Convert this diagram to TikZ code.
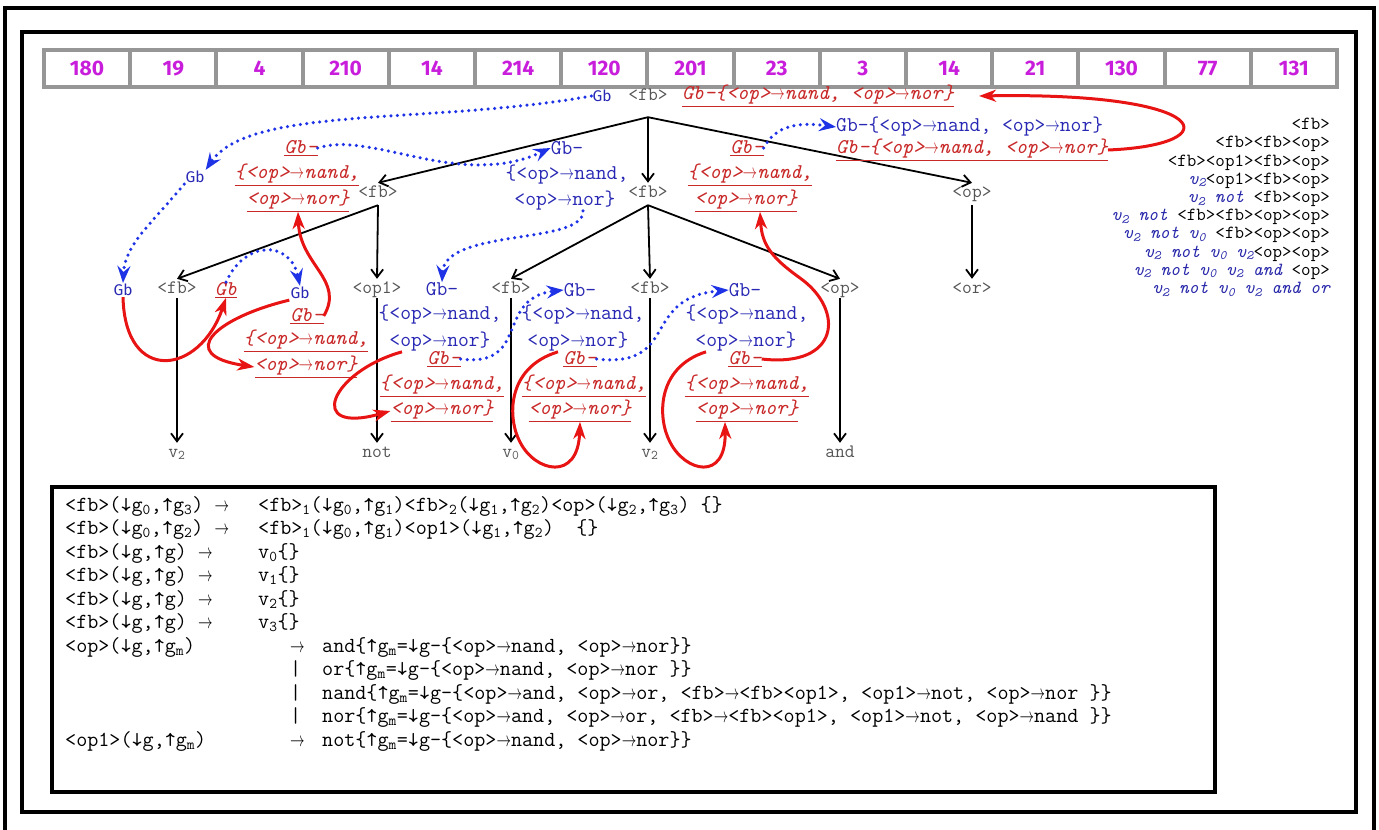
\documentclass[tikz,border=0pt]{standalone}
\usepackage{fontspec}
\usepackage{graphicx}
\usetikzlibrary{arrows.meta}
\newfontfamily\numfont{Fira Sans}
\definecolor{tgray}{RGB}{85,85,85}
\definecolor{tblue}{RGB}{40,40,180}
\definecolor{dblue}{RGB}{40,40,170}
\definecolor{dotblue}{RGB}{30,50,230}
\definecolor{tred}{RGB}{200,40,40}
\definecolor{ared}{RGB}{232,20,20}
\definecolor{numcol}{RGB}{200,30,220}
\definecolor{cellgray}{RGB}{150,150,150}
\newcommand{\treefont}{\ttfamily\fontsize{19}{21}\selectfont}
\newcommand{\annfont}{\ttfamily\fontsize{21}{23}\selectfont}
\newcommand{\annitfont}{\ttfamily\itshape\fontsize{21}{23}\selectfont}
\newcommand{\gbfont}{\numfont\fontsize{15.5}{18}\selectfont}
\newcommand{\derfont}{\ttfamily\fontsize{18.5}{18.2}\selectfont}
\newcommand{\rulefont}{\ttfamily\fontsize{21.5}{23.5}\selectfont}
\newcommand{\sbs}[1]{\textsubscript{#1}}
\newcommand{\dvar}[1]{{\color{dblue}\itshape #1}}
\newcommand{\rarr}{\scalebox{0.7}[1]{$\rightarrow$}}

\begin{document}
\begin{tikzpicture}
[tnode/.style={anchor=base, inner sep=2pt, text=tgray, font=\treefont, text height=12pt, text depth=3pt},
 tedge/.style={line width=1.8pt, -{Straight Barb[length=8pt,width=12pt]}},
 bt/.style={inner sep=0pt, text=tblue, font=\annfont},
 rt/.style={inner sep=0pt, text=tred, font=\annitfont},
 gbt/.style={inner sep=1pt, text=tblue, font=\gbfont},
 dotarr/.style={draw=dotblue, line width=3.5pt, line cap=round, dash pattern=on 0pt off 6.5pt, -{Stealth[length=17pt,width=13pt,inset=6pt]}},
 redarr/.style={draw=ared, line width=3pt, -{Stealth[length=17pt,width=12pt,inset=5pt]}},
 cell/.style={draw=cellgray, line width=4pt, minimum width=86.2pt, minimum height=37pt, inner sep=0pt, text=numcol, font=\numfont\bfseries\fontsize{21}{21}\selectfont}]
\useasboundingbox (0pt,0pt) rectangle (1379pt,-830pt);
\draw [line width=4pt] (5pt,-832pt) -- (5pt,-8pt) -- (1374pt,-8pt) -- (1374pt,-832pt);
\draw [line width=4.5pt] (22pt,-32pt) rectangle (1356pt,-812pt);
\foreach \n [count=\i from 0] in {180,19,4,210,14,214,120,201,23,3,14,21,130,77,131}
  \node (c\i) [cell] at ({44pt+86.2pt*\i+43.1pt},-68.5pt) {\n};

\node (fbR) [tnode, text depth=15pt] at (648pt,-100pt) {<fb>};
\node (fbA) [tnode, text depth=6pt] at (378pt,-197pt) {<fb>};
\node (fbB) [tnode, text depth=6pt] at (648pt,-197pt) {<fb>};
\node (opC) [tnode, text depth=6pt] at (972pt,-197pt) {<op>};
\node (fbAA) [tnode] at (177pt,-293pt) {<fb>};
\node (oneAB) [tnode] at (377pt,-293pt) {<op1>};
\node (fbBA) [tnode] at (511pt,-293pt) {<fb>};
\node (fbBB) [tnode] at (650pt,-293pt) {<fb>};
\node (opBC) [tnode] at (840pt,-293pt) {<op>};
\node (orC) [tnode] at (972pt,-293pt) {<or>};
\node (vAA) [tnode] at (177pt,-457pt) {v\sbs{2}};
\node (notAB) [tnode] at (377pt,-457pt) {not};
\node (vBA) [tnode] at (511pt,-457pt) {v\sbs{0}};
\node (vBB) [tnode] at (650pt,-457pt) {v\sbs{2}};
\node (andBC) [tnode] at (840pt,-457pt) {and};
\draw [tedge] (fbR.south) -- (fbA.north);
\draw [tedge] (fbR.south) -- (fbB.north);
\draw [tedge] (fbR.south) -- (opC.north);
\draw [tedge] (fbA.south) -- (fbAA.north);
\draw [tedge] (fbA.south) -- (oneAB.north);
\draw [tedge] (fbB.south) -- (fbBA.north);
\draw [tedge] (fbB.south) -- (fbBB.north);
\draw [tedge] (fbB.south) -- (opBC.north);
\draw [tedge] (opC.south) -- (orC.north);
\draw [tedge] (fbAA.south) -- (vAA.north);
\draw [tedge] (oneAB.south) -- (notAB.north);
\draw [tedge] (fbBA.south) -- (vBA.north);
\draw [tedge] (fbBB.south) -- (vBB.north);
\draw [tedge] (opBC.south) -- (andBC.north);

\node (gbR) [gbt] at (602pt,-96pt) {Gb};
\node (rdR) [rt, anchor=west] at (682pt,-96pt) {\underline{Gb-\{<op>\rarr nand, <op>\rarr nor\}}};
\node (bR1) [bt, anchor=west] at (836pt,-127pt) {Gb-\{<op>\rarr nand, <op>\rarr nor\}};
\node (rR1) [rt, anchor=west] at (836pt,-150pt) {\underline{Gb-\{<op>\rarr nand, <op>\rarr nor\}}};
\node (gbA) [gbt] at (195pt,-177pt) {Gb};
\node (rA1) [rt] at (301pt,-148pt) {\underline{Gb-}};
\node (rA2) [rt] at (297pt,-175pt) {\underline{\{<op>\rarr nand,}};
\node (rA3) [rt] at (298pt,-201pt) {\underline{<op>\rarr nor\}}};
\node (bB1) [bt] at (567pt,-148pt) {Gb-};
\node (bB2) [bt] at (567pt,-175pt) {\{<op>\rarr nand,};
\node (bB3) [bt] at (565pt,-201pt) {<op>\rarr nor\}};
\node (rC1) [rt] at (747pt,-148pt) {\underline{Gb-}};
\node (rC2) [rt] at (750pt,-175pt) {\underline{\{<op>\rarr nand,}};
\node (rC3) [rt] at (746pt,-201pt) {\underline{<op>\rarr nor\}}};
\node (gbL1) [gbt] at (123pt,-290pt) {Gb};
\node (rL) [rt] at (226pt,-290pt) {\underline{Gb}};
\node (gbL2) [gbt] at (300pt,-293pt) {Gb};
\node (rD1) [rt] at (307pt,-316pt) {\underline{Gb-}};
\node (rD2) [rt] at (306pt,-341pt) {\underline{\{<op>\rarr nand,}};
\node (rD3) [rt] at (306pt,-367pt) {\underline{<op>\rarr nor\}}};
\node (bE1) [bt] at (442pt,-289pt) {Gb-};
\node (bE2) [bt] at (440pt,-315pt) {\{<op>\rarr nand,};
\node (bE3) [bt] at (440pt,-342pt) {<op>\rarr nor\}};
\node (rF1) [rt] at (444pt,-359pt) {\underline{Gb-}};
\node (rF2) [rt] at (442pt,-386pt) {\underline{\{<op>\rarr nand,}};
\node (rF3) [rt] at (442pt,-411pt) {\underline{<op>\rarr nor\}}};
\node (bG1) [bt] at (580pt,-290pt) {Gb-};
\node (bG2) [bt] at (583pt,-315pt) {\{<op>\rarr nand,};
\node (bG3) [bt] at (578pt,-342pt) {<op>\rarr nor\}};
\node (rH1) [rt] at (580pt,-359pt) {\underline{Gb-}};
\node (rH2) [rt] at (584pt,-386pt) {\underline{\{<op>\rarr nand,}};
\node (rH3) [rt] at (580pt,-411pt) {\underline{<op>\rarr nor\}}};
\node (bI1) [bt] at (745pt,-290pt) {Gb-};
\node (bI2) [bt] at (747pt,-315pt) {\{<op>\rarr nand,};
\node (bI3) [bt] at (746pt,-342pt) {<op>\rarr nor\}};
\node (rJ1) [rt] at (745pt,-359pt) {\underline{Gb-}};
\node (rJ2) [rt] at (747pt,-386pt) {\underline{\{<op>\rarr nand,}};
\node (rJ3) [rt] at (747pt,-411pt) {\underline{<op>\rarr nor\}}};

\draw [dotarr] (gbR.west) .. controls (430pt,-125pt) and (250pt,-105pt) .. (gbA.north east);
\draw [dotarr] (gbA.south west) .. controls (150pt,-225pt) and (125pt,-245pt) .. (gbL1.north);
\draw [dotarr] (rA1.east) .. controls (370pt,-130pt) and (460pt,-190pt) .. (bB1.west);
\draw [dotarr] ([xshift=18pt]bB3.south) .. controls (585pt,-245pt) and (445pt,-228pt) .. (bE1.north);
\draw [dotarr] (rL.north) .. controls (245pt,-240pt) and (290pt,-240pt) .. (gbL2.north);
\draw [dotarr] (rC1.east) .. controls (775pt,-125pt) and (800pt,-122pt) .. (bR1.west);
\draw [dotarr] (rF1.east) .. controls (530pt,-368pt) and (495pt,-298pt) .. (bG1.west);
\draw [dotarr] (rH1.east) .. controls (680pt,-368pt) and (640pt,-298pt) .. (bI1.west);

\draw [redarr] (gbL1.south) .. controls (125pt,-385pt) and (200pt,-375pt) .. (rL.south);
\draw [redarr] (gbL2.south west) .. controls (215pt,-318pt) and (175pt,-355pt) .. (rD3.west);
\draw [redarr] (rD1.east) .. controls (345pt,-280pt) and (300pt,-265pt) .. (rA3.south);
\draw [redarr] ([xshift=-38pt]bE3.south) .. controls (330pt,-372pt) and (305pt,-435pt) .. (rF3.west);
\draw [redarr] ([xshift=-20pt]bG3.south) .. controls (505pt,-368pt) and (508pt,-420pt) .. (520pt,-442pt) .. controls (535pt,-472pt) and (578pt,-482pt) .. (rH3.south);
\draw [redarr] ([xshift=-40pt]bI3.south) .. controls (655pt,-368pt) and (658pt,-420pt) .. (670pt,-442pt) .. controls (685pt,-472pt) and (726pt,-482pt) .. ([xshift=-22pt]rJ3.south);
\draw [redarr] (rJ1.east) .. controls (840pt,-368pt) and (845pt,-310pt) .. (800pt,-278pt) .. controls (772pt,-258pt) and (762pt,-245pt) .. ([xshift=14pt]rC3.south);
\draw [redarr] (rR1.east) .. controls (1230pt,-145pt) and (1215pt,-92pt) .. ([xshift=25pt]rdR.east);

\node (deriv) [anchor=north east, align=right, inner sep=0pt, font=\derfont] at (1330pt,-118pt)
 {<fb>\\
  <fb><fb><op>\\
  <fb><op1><fb><op>\\
  \dvar{v\sbs{2}}<op1><fb><op>\\
  \dvar{v\sbs{2} not} <fb><op>\\
  \dvar{v\sbs{2} not} <fb><fb><op><op>\\
  \dvar{v\sbs{2} not v\sbs{0}} <fb><op><op>\\
  \dvar{v\sbs{2} not v\sbs{0} v\sbs{2}}<op><op>\\
  \dvar{v\sbs{2} not v\sbs{0} v\sbs{2} and} <op>\\
  \dvar{v\sbs{2} not v\sbs{0} v\sbs{2} and or}};

\draw [line width=4pt] (52pt,-487pt) rectangle (1215pt,-792pt);
\node (rules) [anchor=north west, align=left, inner sep=0pt, font=\rulefont] at (65pt,-496pt)
 {\makebox[193pt][l]{<fb>(↓g\sbs{0},↑g\sbs{3}) \rarr}<fb>\sbs{1}(↓g\sbs{0},↑g\sbs{1})<fb>\sbs{2}(↓g\sbs{1},↑g\sbs{2})<op>(↓g\sbs{2},↑g\sbs{3}) \{\}\\
  \makebox[193pt][l]{<fb>(↓g\sbs{0},↑g\sbs{2}) \rarr}<fb>\sbs{1}(↓g\sbs{0},↑g\sbs{1})<op1>(↓g\sbs{1},↑g\sbs{2})\ \ \{\}\\
  \makebox[193pt][l]{<fb>(↓g,↑g) \rarr}v\sbs{0}\{\}\\
  \makebox[193pt][l]{<fb>(↓g,↑g) \rarr}v\sbs{1}\{\}\\
  \makebox[193pt][l]{<fb>(↓g,↑g) \rarr}v\sbs{2}\{\}\\
  \makebox[193pt][l]{<fb>(↓g,↑g) \rarr}v\sbs{3}\{\}\\
  \makebox[225pt][l]{<op>(↓g,↑g\sbs{m})}\makebox[32pt][l]{\rarr}and\{↑g\sbs{m}=↓g-\{<op>\rarr nand, <op>\rarr nor\}\}\\
  \makebox[225pt][l]{}\makebox[32pt][l]{|}or\{↑g\sbs{m}=↓g-\{<op>\rarr nand, <op>\rarr nor \}\}\\
  \makebox[225pt][l]{}\makebox[32pt][l]{|}nand\{↑g\sbs{m}=↓g-\{<op>\rarr and, <op>\rarr or, <fb>\rarr <fb><op1>, <op1>\rarr not, <op>\rarr nor \}\}\\
  \makebox[225pt][l]{}\makebox[32pt][l]{|}nor\{↑g\sbs{m}=↓g-\{<op>\rarr and, <op>\rarr or, <fb>\rarr <fb><op1>, <op1>\rarr not, <op>\rarr nand \}\}\\
  \makebox[225pt][l]{<op1>(↓g,↑g\sbs{m})}\makebox[32pt][l]{\rarr}not\{↑g\sbs{m}=↓g-\{<op>\rarr nand, <op>\rarr nor\}\}};
\end{tikzpicture}
\end{document}
